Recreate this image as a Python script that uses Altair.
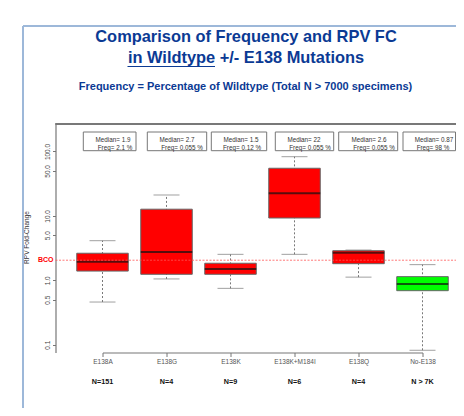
import altair as alt
import pandas as pd

categories = ["E138A", "E138G", "E138K", "E138K+M184I", "E138Q", "No-E138"]
whisker_low = [0.46, 1.05, 0.75, 2.53, 1.12, 0.082]
q1 = [1.39, 1.24, 1.24, 9.27, 1.81, 0.69]
median = [1.94, 2.75, 1.5, 22.4, 2.68, 0.877]
q3 = [2.63, 12.7, 1.84, 54.9, 2.88, 1.14]
whisker_high = [4.12, 21.1, 2.53, 83, 2.95, 1.75]
fills = ["#ff0000", "#ff0000", "#ff0000", "#ff0000", "#ff0000", "#00ff00"]
n_labels = ["N=151", "N=4", "N=9", "N=6", "N=4", "N > 7K"]
median_labels = ["Median= 1.9", "Median= 2.7", "Median= 1.5", "Median= 22", "Median= 2.6", "Median= 0.87"]
freq_labels = ["Freq= 2.1 %", "Freq= 0.055 %", "Freq= 0.12 %", "Freq= 0.055 %", "Freq= 0.055 %", "Freq= 98 %"]
y_ticks = [0.1, 0.5, 1, 5, 10, 50, 100]
bco_value = [2.05]

# page-pixel layout of the annotation boxes and texts
box_left = [83.3, 147.3, 211.3, 275.3, 338.7, 403]
box_right = [136, 206.7, 266.7, 333.7, 397.7, 455.5]
median_cx = [113, 177, 241, 304, 369, 434]
freq_cx = [115, 182, 242, 310, 374, 433]

PX0, PY0 = 55.5, 124
W, H = 400.5, 228.5
TOTAL_H = 400
NAVY = "#0b3a94"
FONT = "Liberation Sans"
GREY = "#777777"
PANEL = "#9db8d9"

df = pd.DataFrame({
    "cat": categories, "low": whisker_low, "q1": q1, "med": median, "q3": q3,
    "high": whisker_high, "fill": fills, "n": n_labels,
})

xscale = alt.Scale(type="point", domain=categories, range=[47, 367], padding=0)
yscale = alt.Scale(type="log", domain=[0.0757, 267], nice=False)
xaxis = alt.Axis(labelAngle=0, labelFont=FONT, labelFontSize=6.5, labelColor="#555555",
                 tickColor=GREY, tickSize=4, domainColor=GREY, domainWidth=1.2,
                 labelPadding=5, grid=False, labelBaseline="middle")
yaxis = alt.Axis(values=y_ticks, format=".1f", labelAngle=-90, labelFont=FONT, labelFontSize=6.5,
                 labelColor="#444444", labelAlign="center", labelBaseline="middle", labelPadding=5,
                 tickColor=GREY, tickSize=3, domainColor=GREY, domainWidth=1.2, grid=False,
                 title="RPV Fold-Change", titleFont=FONT, titleFontSize=6.5, titleFontWeight="normal",
                 titleColor="#333333", titleX=-26.5, titleY=113, titleAngle=-90,
                 labelOverlap=False)
X = alt.X("cat:N", scale=xscale, sort=categories, title=None, axis=xaxis)


def Y(field):
    return alt.Y(field, scale=yscale, axis=yaxis)


base = alt.Chart(df)
layers = []

# whiskers
layers.append(base.mark_rule(color="#555555", strokeDash=[2, 2], strokeWidth=0.8).encode(
    x=X, y=Y("low:Q"), y2="high:Q"))
for f in ["low", "high"]:
    layers.append(base.mark_tick(color=GREY, size=26, thickness=1).encode(x=X, y=Y(f + ":Q")))

# boxes and medians
layers.append(base.mark_bar(size=51.5, stroke="#666666", strokeWidth=1).encode(
    x=X, y=Y("q1:Q"), y2="q3:Q", fill=alt.Fill("fill:N", scale=None)))
layers.append(base.mark_tick(color="#111111", size=51.5, thickness=2).encode(x=X, y=Y("med:Q")))

# BCO line and label
bco = alt.Chart(pd.DataFrame({"v": bco_value, "t": ["BCO"]}))
layers.append(bco.mark_rule(color="#ff5555", strokeDash=[2, 1.5], strokeWidth=0.8).encode(
    y=Y("v:Q"), x=alt.value(0), x2=alt.value(W)))
layers.append(bco.mark_text(color="#ff0000", font=FONT, fontSize=7, fontWeight="bold", align="right",
                            baseline="middle").encode(y=Y("v:Q"), x=alt.value(-2), text="t:N"))

# N labels
layers.append(base.mark_text(font=FONT, fontSize=7.2, fontWeight="bold", color="#111111",
                             baseline="middle").encode(x=X, y=alt.value(382 - PY0), text="n:N"))

# annotation boxes
for i in range(len(categories)):
    row = alt.Chart(pd.DataFrame({"m": [median_labels[i]], "f": [freq_labels[i]]}))
    layers.append(row.mark_rect(fill="white", stroke=GREY, strokeWidth=1).encode(
        x=alt.value(box_left[i] - PX0), x2=alt.value(box_right[i] - PX0),
        y=alt.value(132 - PY0), y2=alt.value(150.7 - PY0)))
    layers.append(row.mark_text(font=FONT, fontSize=6.3, color="#333333", baseline="middle").encode(
        x=alt.value(median_cx[i] - PX0), y=alt.value(140 - PY0), text="m:N"))
    layers.append(row.mark_text(font=FONT, fontSize=6.3, color="#333333", baseline="middle").encode(
        x=alt.value(freq_cx[i] - PX0), y=alt.value(147.7 - PY0), text="f:N"))

# plot frame top line
layers.append(base.mark_rule(color=GREY, strokeWidth=1.2).encode(
    y=alt.value(0), x=alt.value(0), x2=alt.value(W)))

# slide panel border
layers.append(base.mark_rule(color=PANEL, strokeWidth=2).encode(
    x=alt.value(23 - PX0), y=alt.value(26 - PY0), y2=alt.value(416 - PY0)))
layers.append(base.mark_rule(color=PANEL, strokeWidth=2).encode(
    y=alt.value(26 - PY0), x=alt.value(23 - PX0), x2=alt.value(W)))

# slide titles
titles = alt.Chart(pd.DataFrame({"a": [1]}))
layers.append(titles.mark_text(text="Comparison of Frequency and RPV FC", font=FONT, fontSize=16.4,
                               fontWeight="bold", color=NAVY, baseline="middle").encode(
    x=alt.value(246 - PX0), y=alt.value(37 - PY0)))
layers.append(titles.mark_text(text="in Wildtype +/- E138 Mutations", font=FONT, fontSize=16.4,
                               fontWeight="bold", color=NAVY, baseline="middle").encode(
    x=alt.value(246 - PX0), y=alt.value(57.5 - PY0)))
layers.append(titles.mark_rule(color=NAVY, strokeWidth=1.2).encode(
    x=alt.value(127.5 - PX0), x2=alt.value(215 - PX0), y=alt.value(66.5 - PY0)))
layers.append(titles.mark_text(text="Frequency = Percentage of Wildtype (Total N > 7000 specimens)", font=FONT,
                               fontSize=11, fontWeight="bold", color=NAVY, baseline="middle").encode(
    x=alt.value(245.5 - PX0), y=alt.value(86.5 - PY0)))

chart = alt.layer(*layers).properties(
    width=W, height=H,
    autosize=alt.AutoSizeParams(type="none"),
    padding={"left": PX0 - 8, "top": PY0 - 8, "right": 0, "bottom": TOTAL_H - (PY0 - 8) - H},
    background="white",
).configure_view(stroke=None)

chart.save("out.html", embed_options={"renderer": "svg", "actions": False})
